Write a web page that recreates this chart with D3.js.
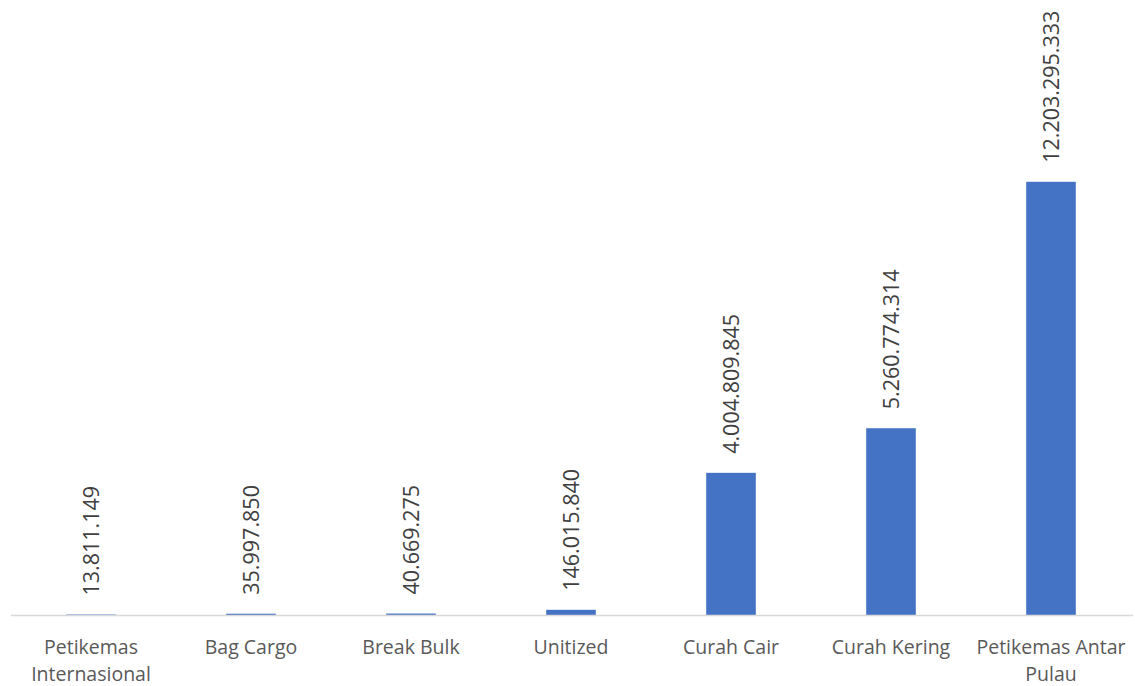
<!DOCTYPE html>
<html>
<head>
<meta charset="utf-8">
<script src="https://cdn.jsdelivr.net/npm/d3@7"></script>
<style>
  html, body { margin: 0; padding: 0; background: #ffffff; }
  svg { display: block; }
</style>
</head>
<body>
<svg id="chart" width="1135" height="686"></svg>
<script>
const categories = ["Petikemas Internasional", "Bag Cargo", "Break Bulk", "Unitized", "Curah Cair", "Curah Kering", "Petikemas Antar Pulau"];
const categoryLines = [["Petikemas", "Internasional"], ["Bag Cargo"], ["Break Bulk"], ["Unitized"], ["Curah Cair"], ["Curah Kering"], ["Petikemas Antar", "Pulau"]];
const values = [13811149, 35997850, 40669275, 146015840, 4004809845, 5260774314, 12203295333];
const yDomain = [0, 14000000000];

const W = 1135, H = 686;
const svg = d3.select("#chart");
const font = "'Open Sans', 'Noto Sans', sans-serif";

const x = d3.scaleBand().domain(categories).range([11, 1131]).paddingInner(0.69).paddingOuter(0.345);
const y = d3.scaleLinear().domain(yDomain).range([615, 118]);

const loc = d3.formatLocale({decimal: ",", thousands: ".", grouping: [3], currency: ["", ""]});
const fmt = loc.format(",d");

// bars
svg.append("g").selectAll("rect").data(values).join("rect")
  .attr("x", (d, i) => x(categories[i]))
  .attr("y", d => y(d))
  .attr("width", x.bandwidth())
  .attr("height", d => y(0) - y(d))
  .attr("fill", "#4472C4");

// axis line
const xAxis = d3.axisBottom(x).tickSize(0).tickFormat("");
const ax = svg.append("g").attr("transform", `translate(0,${y(0)})`).call(xAxis);
ax.select(".domain").attr("stroke", "#d9d9d9").attr("stroke-width", 1.3)
  .attr("d", "M11,0.5H1133");

// category labels
const lab = svg.append("g");
categories.forEach((c, i) => {
  const cx = x(c) + x.bandwidth() / 2;
  const t = lab.append("text")
    .attr("x", cx).attr("y", 654)
    .attr("text-anchor", "middle")
    .attr("font-family", font).attr("font-size", 19.5)
    .attr("fill", "#595959");
  categoryLines[i].forEach((ln, j) => {
    t.append("tspan").attr("x", cx).attr("y", 654 + j * 27).text(ln);
  });
});

// data labels (rotated)
svg.append("g").selectAll("text").data(values).join("text")
  .attr("transform", (d, i) => {
    const cx = x(categories[i]) + x.bandwidth() / 2;
    return `translate(${cx + 8},${y(d) - 19}) rotate(-90)`;
  })
  .attr("text-anchor", "start")
  .attr("font-family", font).attr("font-size", 21.5)
  .attr("fill", "#404040")
  .text(d => fmt(d));
</script>
</body>
</html>
